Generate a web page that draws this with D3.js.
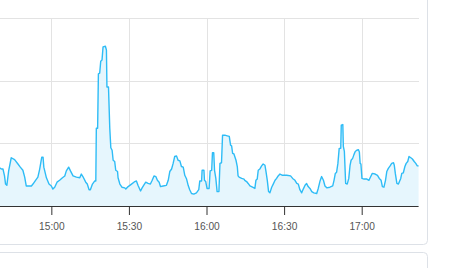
<!DOCTYPE html>
<html>
<head>
<meta charset="utf-8">
<script src="https://cdn.jsdelivr.net/npm/d3@7"></script>
<style>
  body { margin: 0; background: #fff; }
  svg { display: block; font-family: "Liberation Sans", Arial, sans-serif; }
</style>
</head>
<body>
<svg id="chart" width="460" height="268"></svg>
<script>
  // minutes after 14:40 for every reading
  var offsetMin = [
    0.0, 0.7, 1.3, 1.9, 2.3, 2.8, 3.5, 4.5, 5.8, 7.1, 8.0, 9.0, 9.7, 10.3, 12.3, 12.9, 13.9, 14.8, 15.5, 16.3,
    16.8, 17.1, 18.1, 19.1, 20.0, 20.6, 21.3, 22.2, 23.2, 24.3, 25.2, 25.8, 26.7, 27.4, 28.4, 29.7, 31.0, 31.6, 32.2, 33.3,
    33.9, 34.6, 35.1, 35.9, 36.8, 37.2, 37.4, 37.9, 38.2, 38.7, 39.1, 39.6, 40.0, 40.9, 41.3, 41.5, 42.1, 42.6, 43.0, 43.5,
    43.9, 44.5, 44.9, 45.6, 45.8, 46.5, 47.3, 48.4, 48.8, 49.7, 51.0, 52.3, 52.9, 53.5, 54.5, 55.1, 55.7, 56.5, 57.4, 58.3,
    59.0, 59.7, 60.4, 61.0, 61.7, 62.2, 63.2, 64.5, 65.2, 65.8, 66.5, 67.1, 67.7, 68.4, 69.0, 69.7, 70.3, 71.0, 71.6, 72.3,
    72.9, 73.5, 74.2, 75.1, 76.1, 77.0, 77.4, 78.1, 78.3, 79.0, 79.2, 79.7, 80.2, 81.0, 81.4, 82.0, 82.3, 82.8, 83.1, 83.6,
    84.1, 84.8, 85.2, 85.8, 86.2, 87.1, 88.0, 88.8, 89.3, 89.7, 90.1, 90.6, 91.4, 91.9, 92.2, 92.6, 93.6, 94.5, 94.8, 95.5,
    96.1, 96.8, 97.8, 98.7, 99.1, 99.6, 100.0, 100.6, 101.3, 101.9, 102.6, 103.0, 103.5, 104.0, 104.5, 105.2, 105.8, 106.5, 107.1, 107.7,
    108.4, 109.4, 111.0, 112.5, 113.3, 114.2, 114.9, 115.5, 116.1, 116.8, 117.4, 118.1, 118.7, 119.3, 120.0, 120.7, 121.5, 122.6, 123.2, 123.9,
    124.5, 125.2, 125.8, 126.5, 127.7, 128.8, 129.3, 129.8, 130.3, 130.8, 131.3, 131.9, 132.1, 132.7, 132.9, 133.3, 133.8, 134.4, 135.0, 135.5,
    135.9, 136.5, 137.0, 137.5, 138.1, 138.7, 139.1, 139.4, 139.7, 140.1, 140.9, 142.0, 142.8, 143.5, 144.1, 145.2, 146.1, 146.8, 147.5, 148.0,
    148.6, 149.2, 149.7, 150.3, 151.0, 151.6, 152.3, 152.6, 153.0, 153.6, 154.2, 154.6, 155.1, 155.5, 156.1, 156.7, 157.2, 157.8, 158.3, 159.0,
    159.6, 160.3, 160.9, 161.5, 162.0
  ];
  var load = [
    6.1, 5.9, 5.9, 4.8, 3.5, 3.3, 5.6, 7.7, 7.4, 6.7, 6.2, 5.7, 4.6, 3.2, 3.2, 3.5, 4.1, 4.6, 5.9, 7.8,
    7.8, 6.2, 4.5, 3.5, 3.2, 2.7, 3.0, 3.8, 4.1, 4.5, 4.8, 5.6, 6.2, 5.6, 4.8, 4.6, 4.5, 5.1, 4.7, 3.8,
    3.5, 2.6, 2.6, 3.5, 4.0, 4.0, 12.4, 12.4, 21.1, 21.2, 23.1, 23.3, 25.4, 25.5, 24.9, 19.0, 19.0, 12.4, 9.3, 8.9,
    7.3, 7.1, 5.7, 5.5, 4.5, 3.5, 3.0, 2.9, 2.7, 3.1, 3.5, 3.9, 4.0, 3.3, 2.4, 2.9, 3.3, 3.8, 3.6, 3.5,
    4.1, 4.8, 4.7, 4.1, 3.8, 3.1, 3.2, 3.3, 4.1, 5.5, 5.9, 6.8, 7.9, 8.0, 7.3, 7.2, 6.3, 6.2, 4.9, 4.3,
    3.3, 2.6, 2.0, 1.9, 2.1, 2.6, 4.0, 4.0, 5.7, 5.7, 4.1, 3.9, 2.8, 2.8, 5.6, 5.7, 8.5, 8.5, 5.7, 4.4,
    2.3, 2.3, 6.8, 6.9, 11.3, 11.3, 11.2, 11.1, 9.7, 9.6, 8.4, 8.3, 7.3, 6.3, 4.8, 4.6, 4.4, 4.3, 4.1, 3.9,
    3.6, 3.2, 3.0, 2.8, 4.1, 4.3, 5.7, 5.9, 6.4, 6.7, 6.5, 5.5, 4.1, 2.3, 2.1, 3.0, 3.5, 4.1, 4.4, 4.8,
    5.1, 4.9, 4.9, 4.8, 4.4, 4.1, 3.6, 3.5, 2.6, 2.1, 2.7, 3.3, 3.6, 3.1, 2.8, 2.3, 2.1, 2.0, 2.8, 4.0,
    4.7, 4.1, 3.2, 2.9, 3.0, 3.2, 4.1, 5.2, 5.4, 6.8, 9.2, 9.2, 12.9, 13.0, 9.5, 8.7, 3.6, 3.5, 4.4, 6.5,
    7.3, 7.6, 8.2, 8.7, 8.9, 9.0, 8.6, 6.8, 6.7, 4.4, 4.3, 4.3, 4.1, 4.7, 5.2, 5.1, 4.9, 4.4, 4.1, 3.1,
    3.0, 4.1, 5.5, 6.0, 6.4, 6.8, 6.9, 6.5, 5.2, 3.6, 3.5, 3.9, 4.4, 5.2, 5.3, 6.3, 6.8, 7.1, 7.9, 7.7,
    7.5, 7.1, 6.8, 6.4, 6.4
  ];
  var yTicks = [0, 10, 20, 30];
  var timeTicks = ['15:00', '15:30', '16:00', '16:30', '17:00'];

  (function() {
    var start = new Date(2020, 0, 1, 14, 40);
    var end = new Date(2020, 0, 1, 17, 22);
    var parse = d3.timeParse('%H:%M');
    function atDay(d) { return new Date(2020, 0, 1, d.getHours(), d.getMinutes()); }

    var data = offsetMin.map(function(m, i) {
      return { t: new Date(start.getTime() + m * 60000), v: load[i] };
    });

    var svg = d3.select('#chart');
    var width = 418.6, plotTop = 18, plotBottom = 206;

    // card outlines (this one and the one below, both cut off by the window)
    svg.append('rect')
      .attr('x', -10).attr('y', -10)
      .attr('width', 437.5).attr('height', 254.5)
      .attr('rx', 4)
      .attr('fill', '#fff').attr('stroke', '#dde1e7');
    svg.append('rect')
      .attr('x', -10).attr('y', 252.5)
      .attr('width', 437.5).attr('height', 40)
      .attr('rx', 4)
      .attr('fill', '#fff').attr('stroke', '#dde1e7');

    var x = d3.scaleTime().domain([start, end]).range([-0.4, width]);
    var y = d3.scaleLinear().domain([0, 30]).range([plotBottom, plotTop]);

    var g = svg.append('g');

    // gridlines
    g.append('g').attr('class', 'grid')
      .selectAll('line').data(yTicks.slice(1)).join('line')
      .attr('x1', 0).attr('x2', width)
      .attr('y1', function(d) { return Math.round(y(d)) + 0.5; })
      .attr('y2', function(d) { return Math.round(y(d)) + 0.5; })
      .attr('stroke', '#e3e3e3').attr('shape-rendering', 'crispEdges');

    var tickDates = timeTicks.map(function(s) { return atDay(parse(s)); });
    g.append('g').attr('class', 'grid')
      .selectAll('line').data(tickDates).join('line')
      .attr('x1', function(d) { return Math.round(x(d)) + 0.5; })
      .attr('x2', function(d) { return Math.round(x(d)) + 0.5; })
      .attr('y1', plotTop).attr('y2', plotBottom)
      .attr('stroke', '#e3e3e3').attr('shape-rendering', 'crispEdges');

    // area + line
    var area = d3.area()
      .x(function(d) { return x(d.t); })
      .y0(y(0))
      .y1(function(d) { return y(d.v); });
    var line = d3.line()
      .x(function(d) { return x(d.t); })
      .y(function(d) { return y(d.v); });

    g.append('path').datum(data)
      .attr('d', area)
      .attr('fill', '#e6f6fd');
    g.append('path').datum(data)
      .attr('d', line)
      .attr('fill', 'none')
      .attr('stroke', '#2ebcf6')
      .attr('stroke-width', 1.4)
      .attr('stroke-linejoin', 'round');

    // x axis
    var xAxis = d3.axisBottom(x)
      .tickValues(tickDates)
      .tickFormat(d3.timeFormat('%H:%M'))
      .tickSizeInner(9)
      .tickSizeOuter(0)
      .tickPadding(8);

    var ax = g.append('g')
      .attr('transform', 'translate(0,' + plotBottom + ')')
      .call(xAxis);
    ax.select('.domain').attr('stroke', '#333').attr('d', 'M0,0.5H' + width);
    ax.selectAll('.tick line').attr('stroke', '#333');
    ax.selectAll('.tick text')
      .attr('fill', '#555')
      .attr('font-size', 10.2)
      .attr('font-family', '"Liberation Sans", Arial, sans-serif');
  })();
</script>
</body>
</html>
